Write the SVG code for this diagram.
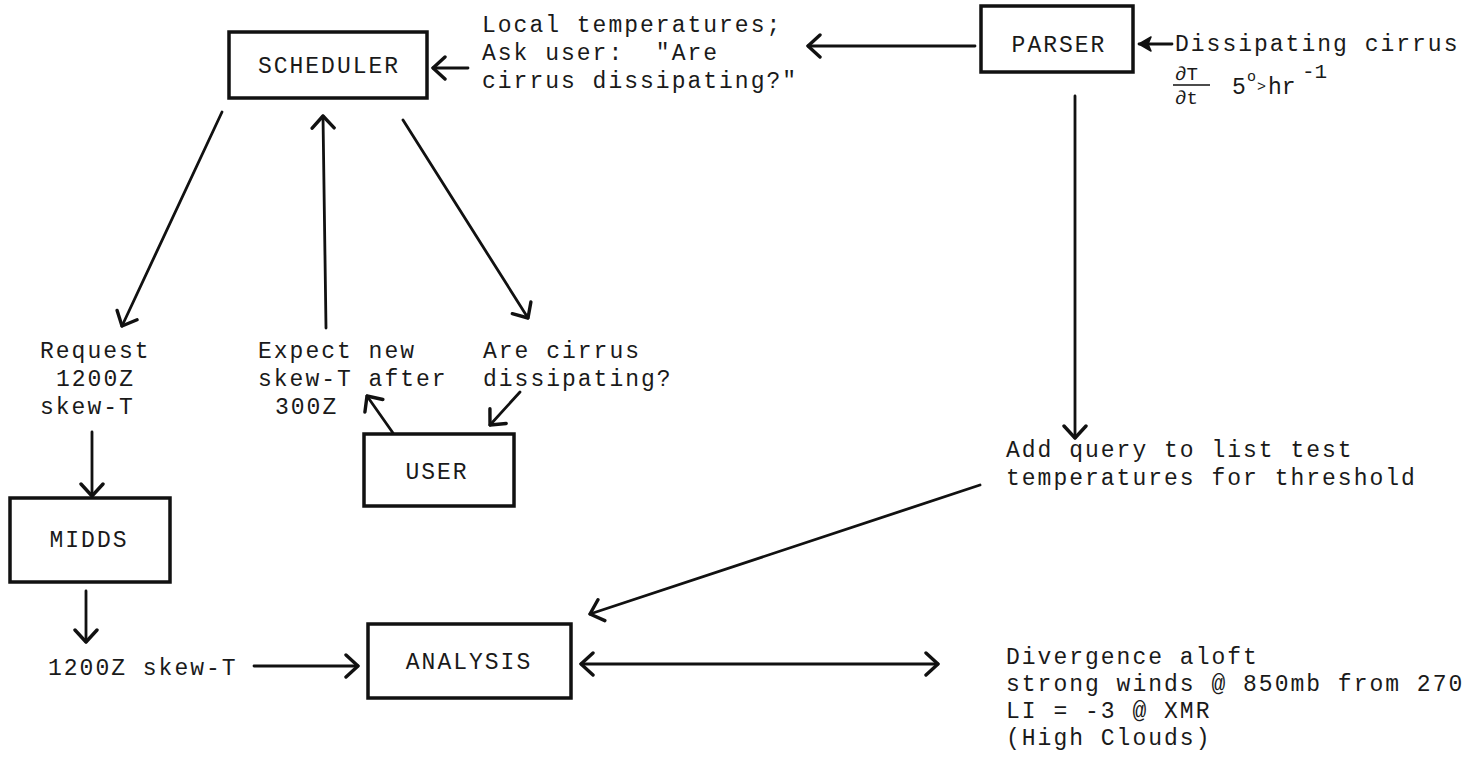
<svg xmlns="http://www.w3.org/2000/svg" width="1484" height="761" viewBox="0 0 1484 761">
  <defs>
    <marker id="open" markerUnits="userSpaceOnUse" viewBox="0 0 16 26" refX="14" refY="13" markerWidth="16" markerHeight="26" orient="auto-start-reverse">
      <path d="M2,2 L14,13 L2,24" fill="none" stroke="#111" stroke-width="3.4" stroke-linecap="round" stroke-linejoin="round"/>
    </marker>
    <marker id="solid" markerUnits="userSpaceOnUse" viewBox="0 0 14 16" refX="13" refY="8" markerWidth="14" markerHeight="16" orient="auto">
      <path d="M1,1 L13,8 L1,15 L4,8 Z" fill="#111" stroke="#111" stroke-width="1.5" stroke-linejoin="round"/>
    </marker>
  </defs>
  <style>
    .box { fill: #fff; stroke: #111; stroke-width: 3.5; }
    .t { font-family: "Liberation Mono", "DejaVu Sans Mono", monospace; font-size: 23px; letter-spacing: 2px; fill: #1a1a1a; }
    .lbl { font-family: "Liberation Mono", "DejaVu Sans Mono", monospace; font-size: 23px; letter-spacing: 2px; fill: #1a1a1a; text-anchor: middle; }
    .sm { font-family: "Liberation Mono", "DejaVu Sans Mono", monospace; fill: #1a1a1a; }
    .c { fill: none; stroke: #111; stroke-width: 2.8; stroke-linecap: round; }
    .a { marker-end: url(#open); }
    .ab { marker-start: url(#open); marker-end: url(#open); }
    .as { marker-end: url(#solid); }
  </style>
  <rect width="1484" height="761" fill="#fff"/>

  <g id="connectors">
    <line class="c a" x1="975" y1="46" x2="808" y2="46"/>
    <line class="c a" x1="468" y1="68" x2="433" y2="68"/>
    <line class="c as" x1="1172" y1="44" x2="1139" y2="44"/>
    <line class="c a" x1="222" y1="112" x2="122" y2="326"/>
    <line class="c a" x1="326" y1="328" x2="323" y2="116"/>
    <line class="c a" x1="403" y1="120" x2="528" y2="318"/>
    <line class="c a" x1="393" y1="433" x2="367" y2="396"/>
    <line class="c a" x1="520" y1="392" x2="490" y2="425"/>
    <line class="c a" x1="92" y1="432" x2="92" y2="496"/>
    <line class="c a" x1="86" y1="591" x2="86" y2="642"/>
    <line class="c a" x1="254" y1="666" x2="358" y2="666"/>
    <line class="c a" x1="1075" y1="96" x2="1075" y2="438"/>
    <line class="c a" x1="980" y1="485" x2="590" y2="614"/>
    <line class="c ab" x1="581" y1="664" x2="938" y2="664"/>
  </g>

  <g id="scheduler">
    <rect class="box" x="229" y="32" width="198" height="66"/>
    <text class="lbl" x="329" y="73">SCHEDULER</text>
  </g>
  <g id="parser">
    <rect class="box" x="981" y="6" width="152" height="66"/>
    <text class="lbl" x="1059" y="52">PARSER</text>
  </g>
  <g id="user">
    <rect class="box" x="364" y="434" width="150" height="72"/>
    <text class="lbl" x="437" y="479">USER</text>
  </g>
  <g id="midds">
    <rect class="box" x="10" y="498" width="160" height="84"/>
    <text class="lbl" x="89" y="547">MIDDS</text>
  </g>
  <g id="analysis">
    <rect class="box" x="368" y="624" width="203" height="74"/>
    <text class="lbl" x="469" y="669">ANALYSIS</text>
  </g>

  <g id="labels">
    <text class="t" x="482" y="32">Local temperatures;</text>
    <text class="t" x="482" y="60" xml:space="preserve">Ask user:  "Are</text>
    <text class="t" x="482" y="88">cirrus dissipating?"</text>

    <text class="t" x="1175" y="51">Dissipating cirrus</text>
    <text class="sm" x="1175" y="80" font-size="19">∂T</text>
    <line x1="1173" y1="85" x2="1210" y2="85" stroke="#111" stroke-width="1.6"/>
    <text class="sm" x="1175" y="104" font-size="19">∂t</text>
    <text class="sm" x="1232" y="94" font-size="23">5</text>
    <text class="sm" x="1247" y="81" font-size="15">o</text>
    <text class="sm" x="1257" y="91" font-size="15">&gt;</text>
    <text class="sm" x="1268" y="94" font-size="23">hr</text>
    <text class="sm" x="1302" y="78" font-size="21">-1</text>

    <text class="t" x="40" y="358">Request</text>
    <text class="t" x="56" y="386">1200Z</text>
    <text class="t" x="40" y="414">skew-T</text>

    <text class="t" x="258" y="358">Expect new</text>
    <text class="t" x="258" y="386">skew-T after</text>
    <text class="t" x="275" y="414">300Z</text>

    <text class="t" x="483" y="358">Are cirrus</text>
    <text class="t" x="483" y="386">dissipating?</text>

    <text class="t" x="48" y="675">1200Z skew-T</text>

    <text class="t" x="1006" y="457">Add query to list test</text>
    <text class="t" x="1006" y="485">temperatures for threshold</text>

    <text class="t" x="1006" y="664">Divergence aloft</text>
    <text class="t" x="1006" y="691">strong winds @ 850mb from 270</text>
    <text class="t" x="1006" y="718">LI = -3 @ XMR</text>
    <text class="t" x="1006" y="745">(High Clouds)</text>
  </g>
</svg>
